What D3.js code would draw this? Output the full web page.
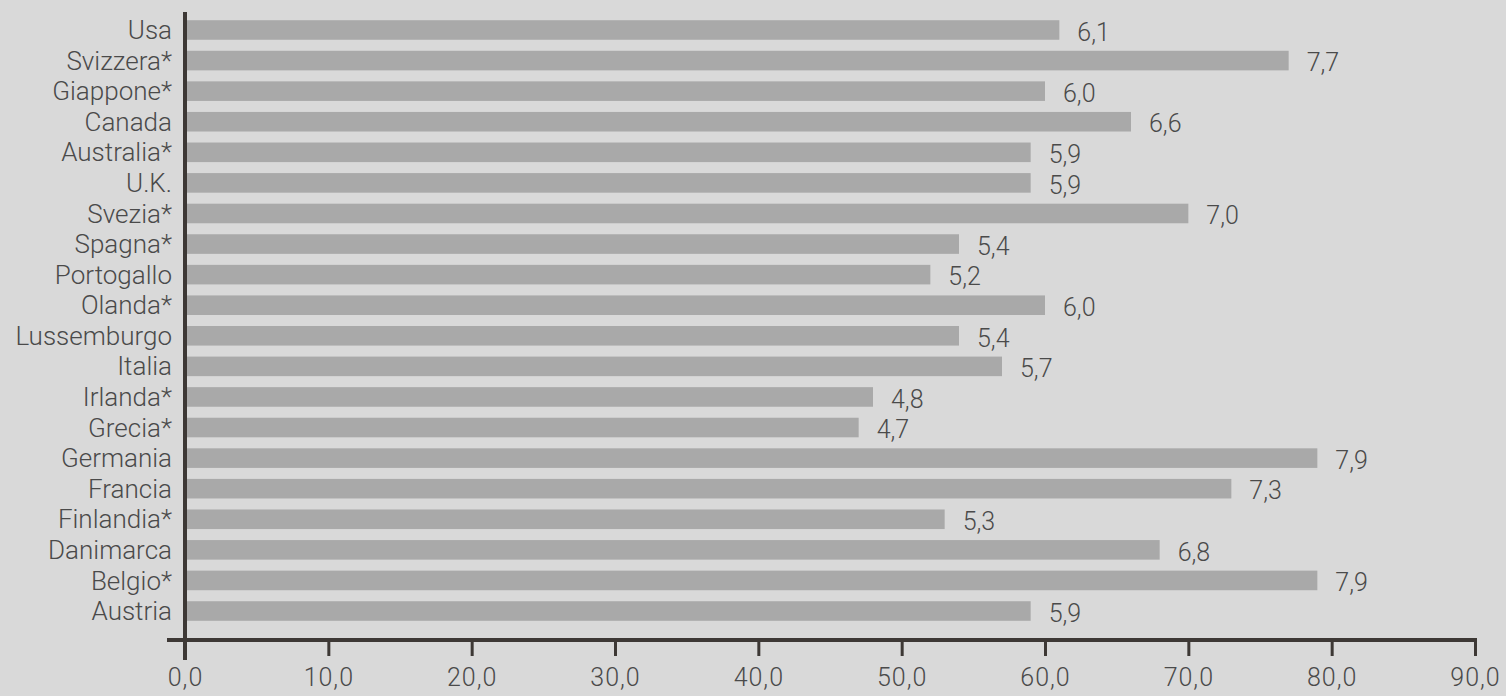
<!DOCTYPE html>
<html lang="it">
<head>
<meta charset="utf-8">
<script src="https://cdn.jsdelivr.net/npm/d3@7"></script>
<style>
  html, body { margin: 0; padding: 0; background: #d9d9d9; }
  svg { display: block; }
  text { font-family: Roboto, "Liberation Sans Narrow", sans-serif; font-weight: 300; fill: #4a4a4a; }
</style>
</head>
<body>
<svg id="chart" width="1506" height="696"></svg>
<script>
// Paesi, dall'alto verso il basso
const paesi = ["Usa", "Svizzera*", "Giappone*", "Canada", "Australia*", "U.K.", "Svezia*",
  "Spagna*", "Portogallo", "Olanda*", "Lussemburgo", "Italia", "Irlanda*", "Grecia*",
  "Germania", "Francia", "Finlandia*", "Danimarca", "Belgio*", "Austria"];

// Valore indicato accanto a ciascuna barra
const valori = [6.1, 7.7, 6.0, 6.6, 5.9, 5.9, 7.0, 5.4, 5.2, 6.0, 5.4, 5.7, 4.8, 4.7,
  7.9, 7.3, 5.3, 6.8, 7.9, 5.9];

// Tacche dell'asse orizzontale e relative etichette
const tacche = [0, 1, 2, 3, 4, 5, 6, 7, 8, 9];
const etichetteTacche = ["0,0", "10,0", "20,0", "30,0", "40,0", "50,0", "60,0", "70,0", "80,0", "90,0"];

const svg = d3.select("#chart");
const axisColor = "#3d3835";

const x = d3.scaleLinear().domain([0, 9]).range([185, 1475]);
const y = d3.scaleBand().domain(paesi).range([14.7, 626.3]).paddingInner(0.36).paddingOuter(0.18);

const it = d3.formatLocale({ decimal: ",", thousands: ".", grouping: [3], currency: ["", " €"] });
const fmt = it.format(".1f");

const righe = paesi.map((p, i) => ({ paese: p, valore: valori[i] }));

// Barre
svg.append("g").selectAll("rect").data(righe).join("rect")
  .attr("x", x(0))
  .attr("y", d => y(d.paese))
  .attr("width", d => x(d.valore) - x(0))
  .attr("height", y.bandwidth())
  .attr("fill", "#a9a9a9");

// Etichette dei valori
svg.append("g").selectAll("text").data(righe).join("text")
  .attr("x", d => x(d.valore) + 18)
  .attr("y", d => y(d.paese) + y.bandwidth() / 2 + 2)
  .attr("dy", "0.35em")
  .attr("font-size", 25)
  .text(d => fmt(d.valore));

// Nomi dei paesi
svg.append("g").selectAll("text").data(righe).join("text")
  .attr("x", 172)
  .attr("y", d => y(d.paese) + y.bandwidth() / 2)
  .attr("dy", "0.35em")
  .attr("text-anchor", "end")
  .attr("font-size", 26)
  .text(d => d.paese);

// Asse orizzontale
const xAxis = d3.axisBottom(x)
  .tickValues(tacche)
  .tickSize(16)
  .tickPadding(12)
  .tickFormat((d, i) => etichetteTacche[i]);

const gx = svg.append("g").attr("transform", "translate(0,640)").call(xAxis);
gx.select(".domain").remove();
gx.selectAll(".tick line").attr("stroke", axisColor).attr("stroke-width", 3);
gx.selectAll(".tick text")
  .attr("font-size", 25)
  .attr("letter-spacing", 1)
  .attr("font-family", "Roboto, sans-serif")
  .attr("fill", "#4a4a4a");

// Linee degli assi
svg.append("line")
  .attr("x1", 167).attr("x2", x(9) + 2)
  .attr("y1", 640).attr("y2", 640)
  .attr("stroke", axisColor).attr("stroke-width", 4);
svg.append("line")
  .attr("x1", x(0)).attr("x2", x(0))
  .attr("y1", 12).attr("y2", 660)
  .attr("stroke", axisColor).attr("stroke-width", 4);
</script>
</body>
</html>
